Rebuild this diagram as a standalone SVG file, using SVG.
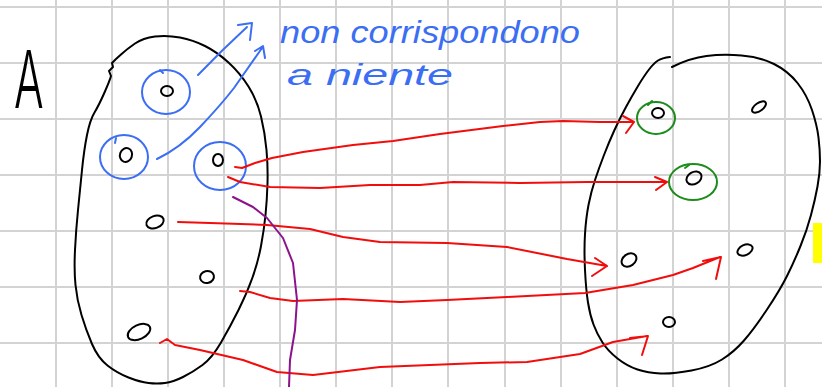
<svg xmlns="http://www.w3.org/2000/svg" width="822" height="387" viewBox="0 0 822 387">
<style>
.grid line{stroke:#d3d3d3;stroke-width:2}
.ink{fill:none;stroke-linecap:round;stroke-linejoin:round;stroke-width:2}
.blk{stroke:#000}
.blu{stroke:#3b6ef2}
.red{stroke:#f20d0d}
.grn{stroke:#1c8c1c}
.pur{stroke:#8c138c}
.hand{font-family:"Liberation Sans","DejaVu Sans",sans-serif;font-style:italic}
</style>
<rect width="822" height="387" fill="#fff"/>
<g class="grid">
<line x1="56" y1="0" x2="56" y2="387"/><line x1="112" y1="0" x2="112" y2="387"/><line x1="168" y1="0" x2="168" y2="387"/><line x1="224" y1="0" x2="224" y2="387"/><line x1="280" y1="0" x2="280" y2="387"/><line x1="336" y1="0" x2="336" y2="387"/><line x1="392" y1="0" x2="392" y2="387"/><line x1="448" y1="0" x2="448" y2="387"/><line x1="505" y1="0" x2="505" y2="387"/><line x1="561" y1="0" x2="561" y2="387"/><line x1="617" y1="0" x2="617" y2="387"/><line x1="673" y1="0" x2="673" y2="387"/><line x1="729" y1="0" x2="729" y2="387"/><line x1="785" y1="0" x2="785" y2="387"/>
<line x1="0" y1="7" x2="822" y2="7"/><line x1="0" y1="63" x2="822" y2="63"/><line x1="0" y1="119" x2="822" y2="119"/><line x1="0" y1="175" x2="822" y2="175"/><line x1="0" y1="231" x2="822" y2="231"/><line x1="0" y1="287" x2="822" y2="287"/><line x1="0" y1="343" x2="822" y2="343"/>
</g>
<rect x="813" y="223" width="9" height="40" fill="#ffff00"/>
<text x="0" y="0" font-family="Inter, Roboto, Lato, 'Liberation Sans', sans-serif" font-weight="300" font-size="80" transform="translate(14,108) scale(0.55,1)">A</text>
<g id="setA">
<path class="ink blk" d="M 121,54.5 Q 127,49 135,43.5 Q 143,38 155,36.5 Q 167,35 180,37.5 Q 193,40 205,46 Q 217,52 228.5,62.5 Q 240,73 248.5,86.5 Q 257,100 261,116.5 Q 265,133 266.5,150 Q 268,167 267.5,183.5 Q 267,200 265.5,215 Q 264,230 261,246 Q 258,262 252.5,277.5 Q 247,293 238.5,310 Q 230,327 221,342.5 Q 212,358 202.5,365 Q 193,372 183,377 Q 173,382 165,383 Q 157,384 148.5,383 Q 140,382 128.5,377.5 Q 117,373 107.5,365.5 Q 98,358 92,344 Q 86,330 81.5,315 Q 77,300 75.5,285 Q 74,270 75,250 Q 76,230 78,210 Q 80,190 82,170 Q 84,150 87,135 Q 90,120 94.5,112.5 Q 99,105 104.5,92.5 Q 110,80 111,76 L 109,71 L 113,67 L 112,63 L 116,59 L 121,54.5"/>
</g>
<g id="setB">
<path class="ink blk" d="M 670,57 Q 662,58 658,60.5 Q 654,63 649,69.5 Q 644,76 638,86 Q 632,96 626,107 Q 620,118 614.5,130 Q 609,142 604,155 Q 599,168 595,180 Q 591,192 588.5,205 Q 586,218 585,234 Q 584,250 585,270 Q 586,290 588,302.5 Q 590,315 593.5,324.5 Q 597,334 602.5,342.5 Q 608,351 617.5,358.5 Q 627,366 637.5,369.5 Q 648,373 660.5,373.5 Q 673,374 691.5,370.5 Q 710,367 722,359.5 Q 734,352 744,340.5 Q 754,329 767,309.5 Q 780,290 787,276 Q 794,262 800.5,246 Q 807,230 811,215 Q 815,200 817.5,186.5 Q 820,173 820,161.5 Q 820,150 818.5,137.5 Q 817,125 812,110 Q 807,95 797.5,83 Q 788,71 774,64 Q 760,57 741.5,55.5 Q 723,54 706.5,56 Q 690,58 672,67"/>
</g>
<g id="a1"><ellipse class="ink blu" cx="166" cy="92" rx="24" ry="22"/><path class="ink blu" d="M160,70 L163,73"/><ellipse class="ink blk" cx="167" cy="91" rx="6" ry="5"/></g>
<g id="a2"><ellipse class="ink blu" cx="124" cy="157" rx="24" ry="22"/><path class="ink blu" d="M116,138 L115,143"/><ellipse class="ink blk" cx="126" cy="155" rx="6" ry="7" transform="rotate(20 126 155)"/></g>
<g id="a3"><ellipse class="ink blu" cx="220" cy="166" rx="26" ry="24"/><ellipse class="ink blk" cx="218" cy="160" rx="5" ry="6"/></g>
<g id="a4"><ellipse class="ink blk" cx="155" cy="222" rx="9" ry="6" transform="rotate(-20 155 222)"/></g>
<g id="a5"><ellipse class="ink blk" cx="207" cy="277" rx="7" ry="6" transform="rotate(-15 207 277)"/></g>
<g id="a6"><ellipse class="ink blk" cx="139" cy="332" rx="12" ry="7" transform="rotate(-25 139 332)"/></g>
<g id="b1"><ellipse class="ink grn" cx="656" cy="118" rx="19" ry="16"/><path class="ink grn" d="M648,105 L652,101"/><ellipse class="ink blk" cx="658" cy="113" rx="6" ry="5"/></g>
<g id="b2"><ellipse class="ink grn" cx="693" cy="182" rx="24" ry="18"/><path class="ink grn" d="M685,168 L689,165"/><ellipse class="ink blk" cx="694" cy="178" rx="8" ry="6" transform="rotate(-30 694 178)"/></g>
<g id="b3"><ellipse class="ink blk" cx="759" cy="107" rx="8" ry="4" transform="rotate(-35 759 107)"/></g>
<g id="b4"><ellipse class="ink blk" cx="629" cy="260" rx="8" ry="6" transform="rotate(-35 629 260)"/></g>
<g id="b5"><ellipse class="ink blk" cx="745" cy="250" rx="8" ry="5" transform="rotate(-25 745 250)"/></g>
<g id="b6"><ellipse class="ink blk" cx="669" cy="322" rx="6" ry="5"/></g>
<g id="connectors">
<path class="ink blu" d="M198,75 Q 222,50 247,27 M238,25 L252,23 L250,40"/>
<path class="ink blu" d="M157,159 Q 180,148 200,127 Q 220,106 234,88 Q 248,68 262,48 M255,51 L263,46 L265,58"/>
<path class="ink red" d="M235,167 L242,168 L255,163 L272,158 L303,152 L353,145 L393,141 L440,134 L503,126 L540,122 L563,121 L600,122 L633,122 M623,116 L634,122 L626,133"/>
<path class="ink red" d="M228,177 L240,182 L270,187 L320,188 L370,185 L420,185 L453,182 L520,183 L587,182 L667,182 M655,177 L667,182 L656,190"/>
<path class="ink red" d="M178,222 L210,223 L267,225 L310,229 L343,237 L380,242 L447,243 L507,247 L547,255 L567,259 L607,266 M595,258 L607,266 L592,276"/>
<path class="ink red" d="M240,291 L250,292 L270,298 L293,301 L343,299 L400,302 L447,300 L507,297 L585,293 L633,285 L673,275 L693,268 L720,257 M703,261 L721,257 L716,279"/>
<path class="ink red" d="M160,343 L167,339 L175,345 L200,350 L243,360 L277,372 L313,375 L380,367 L480,363 L527,362 L580,354 L613,342 L647,336 M630,338 L648,336 L642,355"/>
<path class="ink pur" d="M233,197 L253,207 L267,218 L283,238 L293,263 L297,300 L295,330 L290,360 L289,387"/>
</g>
<text class="hand" x="280" y="43" font-size="31" fill="#3b6ef2" textLength="300" lengthAdjust="spacingAndGlyphs">non corrispondono</text>
<text class="hand" x="287" y="85" font-size="30" fill="#3b6ef2" textLength="166" lengthAdjust="spacingAndGlyphs">a niente</text>
</svg>
